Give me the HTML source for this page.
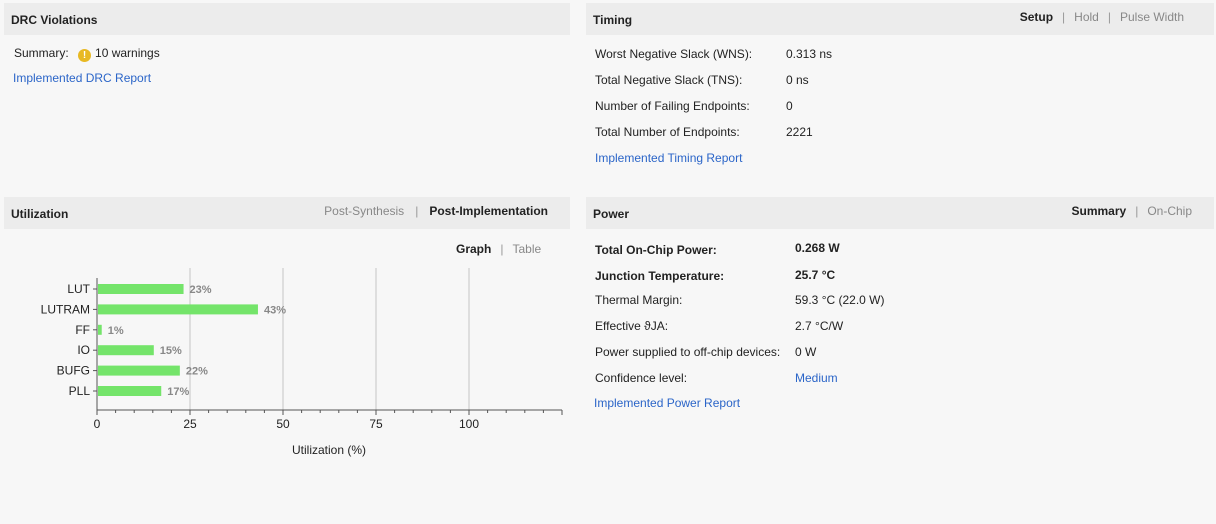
<!DOCTYPE html>
<html><head><meta charset="utf-8"><style>
body{margin:0;width:1216px;height:524px;background:#f7f7f7;font-family:"Liberation Sans",sans-serif;font-size:12px;color:#222;position:relative;overflow:hidden}
.abs{position:absolute;white-space:nowrap}
.hdr{position:absolute;background:#ececec;height:32px}
.ht{position:absolute;top:10px;left:7px;font-weight:bold;font-size:12px;color:#222}
.tabs{position:absolute;top:8px;right:20px;color:#888}
.tabs b{color:#222}
.sep{color:#999;margin:0 9px}
a,.lnk{color:#2b65c8;text-decoration:none}
.lbl{left:595px}
.val{left:795px}
</style></head><body>
<div class="hdr" style="left:4px;top:3px;width:566px"><span class="ht">DRC Violations</span></div>
<div class="abs" style="left:14px;top:46px">Summary:
<span style="display:inline-block;width:13px;height:13px;border-radius:50%;background:#e8b923;color:#fff;font-weight:bold;font-size:10px;text-align:center;line-height:13px;vertical-align:-1px;margin:0 4px 0 6px">!</span>10 warnings</div>
<a class="abs" href="#" style="left:13px;top:71px">Implemented DRC Report</a>

<div class="hdr" style="left:586px;top:3px;width:628px"><span class="ht">Timing</span>
<span class="tabs" style="top:7px;right:30px"><b>Setup</b><span class="sep">|</span><span>Hold</span><span class="sep">|</span><span>Pulse Width</span></span></div>
<div class="abs lbl" style="top:47px">Worst Negative Slack (WNS):</div><div class="abs val" style="left:786px;top:47px">0.313 ns</div>
<div class="abs lbl" style="top:73px">Total Negative Slack (TNS):</div><div class="abs" style="left:786px;top:73px">0 ns</div>
<div class="abs lbl" style="top:99px">Number of Failing Endpoints:</div><div class="abs" style="left:786px;top:99px">0</div>
<div class="abs lbl" style="top:125px">Total Number of Endpoints:</div><div class="abs" style="left:786px;top:125px">2221</div>
<a class="abs" href="#" style="left:595px;top:151px">Implemented Timing Report</a>

<div class="hdr" style="left:4px;top:197px;width:566px"><span class="ht">Utilization</span>
<span class="tabs" style="top:7px;right:22px"><span>Post-Synthesis</span><span class="sep" style="margin:0 11px">|</span><b>Post-Implementation</b></span></div>
<div class="abs" style="left:456px;top:242px;color:#888"><b style="color:#222">Graph</b><span class="sep">|</span><span>Table</span></div>

<svg id="chart" class="abs" style="left:0;top:0" width="580" height="470"></svg>

<div class="hdr" style="left:586px;top:197px;width:628px"><span class="ht">Power</span>
<span class="tabs" style="top:7px;right:22px"><b>Summary</b><span class="sep">|</span><span>On-Chip</span></span></div>
<div class="abs lbl" style="top:243px;font-weight:bold">Total On-Chip Power:</div><div class="abs val" style="top:241px;font-weight:bold">0.268 W</div>
<div class="abs lbl" style="top:269px;font-weight:bold">Junction Temperature:</div><div class="abs val" style="top:268px;font-weight:bold">25.7 °C</div>
<div class="abs lbl" style="top:293px">Thermal Margin:</div><div class="abs val" style="top:293px">59.3 °C (22.0 W)</div>
<div class="abs lbl" style="top:319px">Effective ϑJA:</div><div class="abs val" style="top:319px">2.7 °C/W</div>
<div class="abs lbl" style="top:345px">Power supplied to off-chip devices:</div><div class="abs val" style="top:345px">0 W</div>
<div class="abs lbl" style="top:371px">Confidence level:</div><a class="abs val" href="#" style="top:371px">Medium</a>
<a class="abs" href="#" style="left:594px;top:396px">Implemented Power Report</a>

<script>
const categories=["LUT","LUTRAM","FF","IO","BUFG","PLL"];
const values=[23,43,1,15,22,17];
const ticks=[0,25,50,75,100];
const svg=document.getElementById('chart');
const NS="http://www.w3.org/2000/svg";
const x0=97,x1=562,xmax=125,yTop=268,yAxis=410,y0=289,step=20.4;
const xs=v=>x0+(x1-x0)*v/xmax;
const ys=i=>y0+i*step;
function mk(t,a){const e=document.createElementNS(NS,t);for(const k in a)e.setAttribute(k,a[k]);svg.appendChild(e);return e;}
ticks.forEach(t=>{
 if(t>0){const g=mk('line',{x1:xs(t),x2:xs(t),y1:yTop,y2:yAxis,stroke:'#c4c4c4'});
 
 }
 const tx=mk('text',{x:xs(t),y:yAxis+18,'text-anchor':'middle','font-size':12,fill:'#222','font-family':'Liberation Sans'});tx.textContent=t;
 
 
});
for(let v=0;v<=xmax;v+=5){mk('line',{x1:xs(v),x2:xs(v),y1:yAxis,y2:yAxis+(v%25==0?5:3),stroke:'#555'});}
mk('line',{x1:x0,x2:x0,y1:yTop+10,y2:yAxis,stroke:'#555'});
const ax=mk('line',{x1:x0,x2:x1,y1:yAxis,y2:yAxis,stroke:'#555'});


categories.forEach((c,i)=>{
 const y=ys(i);
 mk('line',{x1:x0-4,x2:x0,y1:y,y2:y,stroke:'#555'});
 const l=mk('text',{x:x0-7,y:y+4,'text-anchor':'end','font-size':12,fill:'#222','font-family':'Liberation Sans'});l.textContent=c;
 
 
 const b=mk('rect',{x:x0+1,y:y-5,width:xs(values[i])-x0,height:10,fill:'#74e46a'});
 
 
 const vt=mk('text',{x:xs(values[i])+7,y:y+4,'font-size':11,'font-weight':'bold',fill:'#888','font-family':'Liberation Sans'});vt.textContent=values[i]+'%';
 
 
});
const at=mk('text',{x:329,y:454,'text-anchor':'middle','font-size':12,fill:'#222','font-family':'Liberation Sans'});at.textContent='Utilization (%)';


</script>
</body></html>
